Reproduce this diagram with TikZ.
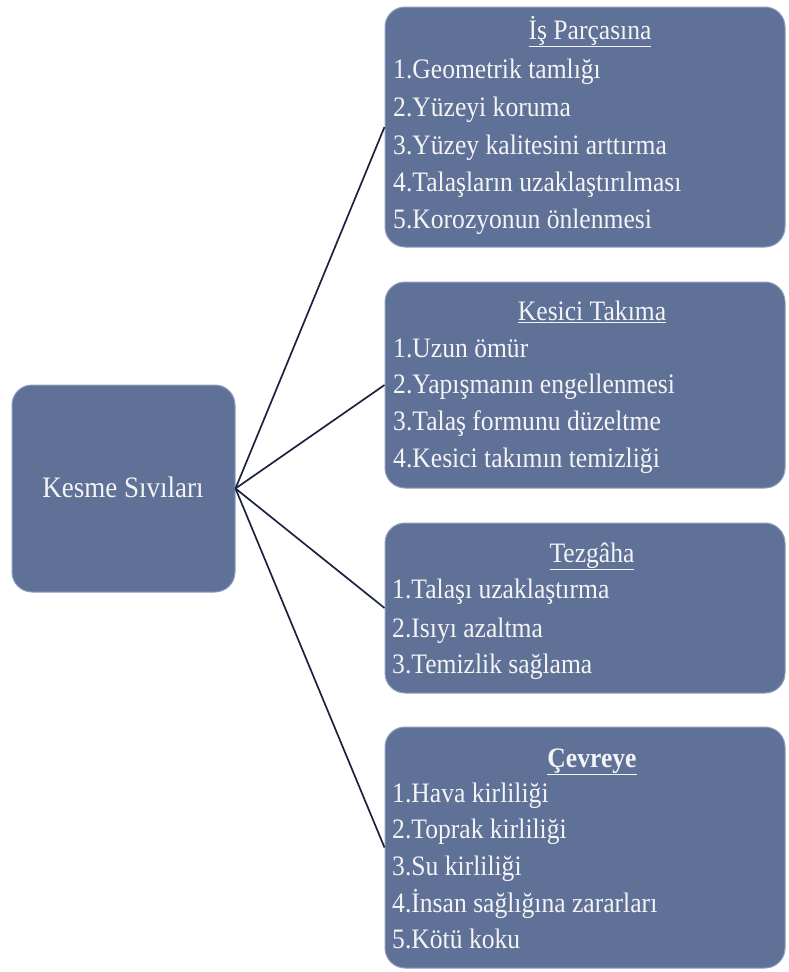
\documentclass[tikz,border=0pt]{standalone}
\usepackage{fontspec}
\setmainfont{Liberation Serif}
\definecolor{boxblue}{HTML}{5F7196}
\definecolor{boxrim}{HTML}{8E9DBD}
\definecolor{linknavy}{HTML}{1B2340}
\definecolor{textwhite}{HTML}{F4F4F6}
\newcommand{\uzat}[1]{\scalebox{1}[1.1]{#1}}

\begin{document}
\begin{tikzpicture}[x=1pt,y=-1pt,
    kutu/.style={draw=boxrim,line width=1pt,fill=boxblue,rounded corners=20pt,minimum width=400pt},
    yazi/.style={text=textwhite,font=\fontsize{25.6}{30}\selectfont},
    bag/.style={draw=linknavy,line width=1.7pt}]
      \tikzstyle{every node}+=[inner sep=0pt]
      \useasboundingbox (0,0) rectangle (789,972);
      % kutular
      \node [kutu,minimum width=223pt,minimum height=207pt] (ks) at (123.5,488.5) {};
      \node [kutu,minimum height=240pt] (b1) at (585,127) {};
      \node [kutu,minimum height=206pt] (b2) at (585,385) {};
      \node [kutu,minimum height=170pt] (b3) at (585,608) {};
      \node [kutu,minimum height=241pt] (b4) at (585,847.5) {};
      \draw [bag] (ks.east) -- (b1.west);
      \draw [bag] (ks.east) -- (b2.west);
      \draw [bag] (ks.east) -- (b3.west);
      \draw [bag] (ks.east) -- (b4.west);
      \node [yazi,anchor=base,font=\fontsize{27}{30}\selectfont] (ksy) at (123,497) {\uzat{Kesme Sıvıları}};
      % is parcasina
      \node [yazi,anchor=base] (b1t) at (590,39) {\uzat{\underline{İş Parçasına}}};
      \node [yazi,anchor=base west] (b1a) at (393,78) {\uzat{1.Geometrik tamlığı}};
      \node [yazi,anchor=base west] (b1b) at (393,116) {\uzat{2.Yüzeyi koruma}};
      \node [yazi,anchor=base west] (b1c) at (393,154) {\uzat{3.Yüzey kalitesini arttırma}};
      \node [yazi,anchor=base west] (b1d) at (393,191) {\uzat{4.Talaşların uzaklaştırılması}};
      \node [yazi,anchor=base west] (b1e) at (393,228) {\uzat{5.Korozyonun önlenmesi}};
      % kesici takima
      \node [yazi,anchor=base] (b2t) at (592,320) {\uzat{\underline{Kesici Takıma}}};
      \node [yazi,anchor=base west] (b2a) at (393,357) {\uzat{1.Uzun ömür}};
      \node [yazi,anchor=base west] (b2b) at (393,393) {\uzat{2.Yapışmanın engellenmesi}};
      \node [yazi,anchor=base west] (b2c) at (393,430) {\uzat{3.Talaş formunu düzeltme}};
      \node [yazi,anchor=base west] (b2d) at (393,467) {\uzat{4.Kesici takımın temizliği}};
      % tezgaha
      \node [yazi,anchor=base] (b3t) at (592,562) {\uzat{\underline{Tezgâha}}};
      \node [yazi,anchor=base west] (b3a) at (392,598) {\uzat{1.Talaşı uzaklaştırma}};
      \node [yazi,anchor=base west] (b3b) at (392,637) {\uzat{2.Isıyı azaltma}};
      \node [yazi,anchor=base west] (b3c) at (392,673) {\uzat{3.Temizlik sağlama}};
      % cevreye
      \node [yazi,anchor=base] (b4t) at (592,767) {\uzat{\underline{\textbf{Çevreye}}}};
      \node [yazi,anchor=base west] (b4a) at (392,802) {\uzat{1.Hava kirliliği}};
      \node [yazi,anchor=base west] (b4b) at (392,838) {\uzat{2.Toprak kirliliği}};
      \node [yazi,anchor=base west] (b4c) at (392,875) {\uzat{3.Su kirliliği}};
      \node [yazi,anchor=base west] (b4d) at (392,912) {\uzat{4.İnsan sağlığına zararları}};
      \node [yazi,anchor=base west] (b4e) at (392,948) {\uzat{5.Kötü koku}};
    \end{tikzpicture}
\end{document}
